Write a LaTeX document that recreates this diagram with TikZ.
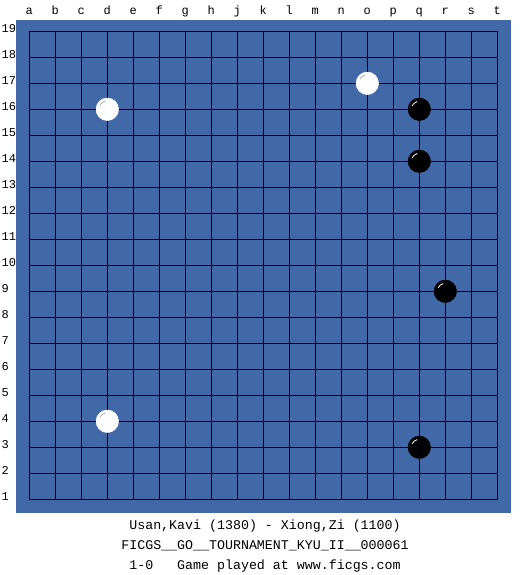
\documentclass[tikz,border=0pt]{standalone}
\usepackage{fontspec}
\setmonofont{Liberation Mono}
\usepackage{tikz}
\definecolor{boardblue}{HTML}{4169A8}

\begin{document}
\begin{tikzpicture}[x=1pt, y=1pt,
        gridline/.style={line width=1.15pt, black, line cap=rect},
        axislabel/.style={font=\ttfamily\fontsize{12}{14}\selectfont, inner sep=0pt},
        caption/.style={font=\ttfamily\fontsize{13.3}{16}\selectfont, inner sep=0pt, anchor=base},
        blackstone/.style={circle, draw=black, fill=black, minimum size=22.6pt, inner sep=0pt,
            path picture={\draw[white, line width=0.8pt] ([shift={(105:8pt)}]path picture bounding box.center) arc[start angle=105, end angle=155, radius=8pt];}},
        whitestone/.style={circle, draw=white, fill=white, minimum size=22.6pt, inner sep=0pt,
            path picture={\draw[gray!70, line width=0.8pt] ([shift={(105:8.5pt)}]path picture bounding box.center) arc[start angle=105, end angle=150, radius=8.5pt];}}]
        \useasboundingbox (0,0) rectangle (525,575);

        % Board
        \fill[boardblue] (16,62.3) rectangle (510.7,555);

        \begin{scope}[shift={(3.3,49.7)}, x=26pt, y=26pt]
        % Grid
        \foreach \i in {1,...,19} {
            \draw[gridline] (\i,1) -- (\i,19);
            \draw[gridline] (1,\i) -- (19,\i);
        }

        % Labels
        \foreach \col [count=\c] in {a,b,c,d,e,f,g,h,j,k,l,m,n,o,p,q,r,s,t}
            \node[axislabel, anchor=base] (col-\col) at (\c,19.654) {\col};
        \foreach \r in {1,...,19}
            \node[axislabel, anchor=base west] (row-\r) at (-0.07,\r-0.06) {\r};

        % Stones
        \node[whitestone] (w-d16) at (4,16) {};
        \node[whitestone] (w-o17) at (14,17) {};
        \node[whitestone] (w-d4) at (4,4) {};
        \node[blackstone] (b-q16) at (16,16) {};
        \node[blackstone] (b-q14) at (16,14) {};
        \node[blackstone] (b-r9) at (17,9) {};
        \node[blackstone] (b-q3) at (16,3) {};
        \end{scope}

        % Game info
        \node[caption] (players) at (265,45.7) {Usan,Kavi (1380) - Xiong,Zi (1100)};
        \node[caption] (event) at (265,25.7) {FICGS\_\_GO\_\_TOURNAMENT\_KYU\_II\_\_000061};
        \node[caption] (result) at (265,5.7) {1-0\ \ \ Game played at www.ficgs.com};
    \end{tikzpicture}
\end{document}
